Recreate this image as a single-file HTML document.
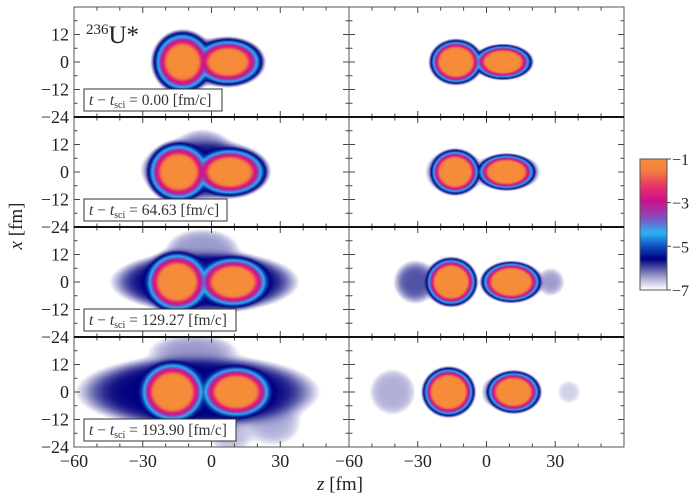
<!DOCTYPE html>
<html><head><meta charset="utf-8"><style>
html,body{margin:0;padding:0;background:#fff;}
#wrap{position:relative;width:700px;height:497px;overflow:hidden;font-family:"Liberation Serif",serif;}
canvas{position:absolute;}
svg{position:absolute;left:0;top:0;}
</style></head><body>
<div id="wrap">
<svg id="ax" width="700" height="497"></svg>
</div>
<script>
// ---- data ----
// components: [z, x, Rz, Rx, log10 amplitude, diffuseness]
const panelLeft1 = [[-12.6,0,6.4,6.6,-0.9,0.55],[7.2,0,7.4,5.0,-0.9,0.55],[-3,0,18,9,-6.2,1.2]];
const panelRight1 = [[-13.3,0,6.8,5.8,-0.9,0.35],[7.2,0,7.4,4.4,-0.9,0.35]];
const panelLeft2 = [[-14.3,0,7.0,6.6,-0.9,0.55],[8.0,0,8.2,5.4,-0.9,0.55],[-3,1,23,11,-5.8,1.4],[-4,10,10,7,-6.3,1.5]];
const panelRight2 = [[-13.7,0,6.4,5.8,-0.9,0.35],[8.7,0,7.5,4.6,-0.9,0.35],[-21,0,5,6,-6.5,1.0],[-3,0,3,8,-6.9,1.0],[19,0,4,5,-6.6,1.0]];
const panelLeft3 = [[-15,0,7.4,7.0,-0.9,0.55],[9.5,0,8.2,5.8,-0.9,0.55],[-3,0,33,11,-5.6,1.8],[-4,14,14,8,-6.4,1.5]];
const panelRight3 = [[-15.4,0,6.8,6.4,-0.9,0.35],[10.8,0,8.0,5.4,-0.9,0.35],[-31,0,7,7,-6.0,1.2],[28,0,5,5,-6.4,1.0]];
const panelLeft4 = [[-17,0,7.8,7.2,-0.9,0.55],[10.8,0,8.2,6.0,-0.9,0.55],[-6,0,42,13,-5.6,2.4],[27,-14,10,8,-6.5,2],[-8,18,16,6,-6.4,2],[8,-20,8,6,-6.6,1.5]];
const panelRight4 = [[-16.5,0,7.0,6.6,-0.9,0.35],[11.8,0,7.0,5.4,-0.9,0.35],[-41,0,9,9,-6.5,1.3],[1,0,3,5,-6.6,1.0],[36,0,5,5,-6.7,1.0]];
const panels = [panelLeft1,panelRight1,panelLeft2,panelRight2,panelLeft3,panelRight3,panelLeft4,panelRight4];
const timeLabels = ["0.00","64.63","129.27","193.90"];
const zTicks = [-60,-30,0,30];
const xTicks = [-24,-12,0,12];
const cbTicks = [-1,-3,-5,-7];

// ---- geometry ----
const X0=74, XM=349, X1=624, Y0=7, RH=110;
const zMin=-60,zMax=60,xMin=-24,xMax=24;
const PW=XM-X0;
function sz(z,col){return (col?XM:X0)+(z-zMin)/(zMax-zMin)*PW;}
function sx(x,row){return Y0+row*RH+(xMax-x)/(xMax-xMin)*RH;}

// colormap
const stops=[[-7,[255,255,255]],[-6.5,[175,175,215]],[-6.0,[80,80,165]],[-5.6,[0,0,128]],[-5.0,[16,80,190]],[-4.4,[40,180,245]],[-3.7,[130,80,190]],[-2.9,[205,15,140]],[-2.2,[232,55,100]],[-1.5,[242,130,65]],[-1,[246,140,58]]];
function cmap(v){
  if(v<=-7) return [255,255,255];
  if(v>=-1) return stops[stops.length-1][1];
  for(let i=1;i<stops.length;i++){ if(v<=stops[i][0]){const a=stops[i-1],b=stops[i];const t=(v-a[0])/(b[0]-a[0]);return [0,1,2].map(k=>a[1][k]+(b[1][k]-a[1][k])*t);} }
}
const wrap=document.getElementById('wrap');
panels.forEach((comps,p)=>{
  const row=Math.floor(p/2),col=p%2;
  const c=document.createElement('canvas');
  
  
  c.width=PW;c.height=RH;c.style.left=(col?XM:X0)+'px';c.style.top=(Y0+row*RH)+'px';
  const ctx=c.getContext('2d');const img=ctx.createImageData(PW,RH);
  for(let j=0;j<RH;j++)for(let i=0;i<PW;i++){
    const z=zMin+(i+0.5)/PW*(zMax-zMin), x=xMax-(j+0.5)/RH*(xMax-xMin);
    let rho=1e-12;
    for(const q of comps){
      const dz=(z-q[0])/q[2],dx=(x-q[1])/q[3];
      const s=(Math.sqrt(dz*dz+dx*dx)-1)*(q[2]+q[3])/2;
      rho+=Math.pow(10,q[4])/(1+Math.exp(Math.min(60,s/q[5])));
    }
    const col3=cmap(Math.log10(rho));const k=(j*PW+i)*4;
    img.data[k]=col3[0];img.data[k+1]=col3[1];img.data[k+2]=col3[2];img.data[k+3]=255;
  }
  ctx.putImageData(img,0,0);
  wrap.insertBefore(c,wrap.firstChild);
});
// colorbar
const CBX=640,CBY=159,CBW=27,CBH=131;
const cb=document.createElement('canvas');


cb.width=CBW;cb.height=CBH;cb.style.left=CBX+'px';cb.style.top=CBY+'px';
{const ctx=cb.getContext('2d');for(let j=0;j<CBH;j++){const v=-1-(j/(CBH-1))*6;const cc=cmap(v);ctx.fillStyle=`rgb(${cc.map(Math.round).join(',')})`;ctx.fillRect(0,j,CBW,1);}}
wrap.insertBefore(cb,wrap.firstChild);

// ---- axes svg ----
const svg=document.getElementById('ax');const NS='http://www.w3.org/2000/svg';
function el(tag,attrs,parent){const e=document.createElementNS(NS,tag);for(const k in attrs)e.setAttribute(k,attrs[k]);(parent||svg).appendChild(e);return e;}
function line(x1,y1,x2,y2,w,c){return el('line',{x1,y1,x2,y2,stroke:c||'#333','stroke-width':w||1});}
for(let row=0;row<4;row++){
  for(let col=0;col<2;col++){
    const L=col?XM:X0,T=Y0+row*RH;
    for(let z=-60;z<=60;z+=10){const px=sz(z,col);const maj=z%30===0;const len=maj?6:3.5;
      const t1=line(px,T,px,T+len,1,'#444');
      const t2=line(px,T+RH,px,T+RH-len,1,'#444');}
    for(let x=-24;x<=24;x+=6){const py=sx(x,row);const maj=x%12===0;const len=maj?6:3.5;
      const t1=line(L,py,L+len,py,1,'#444');
      const t2=line(L+PW,py,L+PW-len,py,1,'#444');}
    const fr=el('rect',{x:L,y:T,width:PW,height:RH,fill:'none',stroke:'#555','stroke-width':1});
    
  }
  if(row>0){const sep=line(X0,Y0+row*RH,X1,Y0+row*RH,2,'#111');}
  xTicks.forEach(v=>{const t=el('text',{x:X0-5,y:sx(v,row)+6,'text-anchor':'end','font-size':18,fill:'#222'});t.textContent=(v<0?'\u2212':'')+Math.abs(v);
    });
  const bx=el('rect',{x:84,y:Y0+row*RH+82,width:row==0?138:(row==1?143:152),height:22,fill:'#fff',stroke:'#333','stroke-width':1});
  
  const tt=el('text',{x:89,y:Y0+row*RH+98,'font-size':15.5,fill:'#333'});
  
  tt.innerHTML='<tspan font-style="italic">t</tspan> \u2212 <tspan font-style="italic">t</tspan><tspan font-size="10" dy="3">sci</tspan><tspan dy="-3"> = '+timeLabels[row]+' [fm/c]</tspan>';
}
for(let col=0;col<2;col++){zTicks.forEach(v=>{const t=el('text',{x:sz(v,col),y:467,'text-anchor':'middle','font-size':18,fill:'#222'});t.textContent=(v<0?'\u2212':'')+Math.abs(v);
  });}
const zl=el('text',{x:340,y:490,'text-anchor':'middle','font-size':19,fill:'#222'});zl.innerHTML='<tspan font-style="italic">z</tspan> [fm]';

const xl=el('text',{x:0,y:0,'text-anchor':'middle','font-size':19,fill:'#222',transform:'translate(22,226) rotate(-90)'});xl.innerHTML='<tspan font-style="italic">x</tspan> [fm]';

const nu=el('text',{x:86,y:43,'font-size':25,fill:'#222'});nu.innerHTML='<tspan font-size="15" dy="-9">236</tspan><tspan dy="9">U*</tspan>';

const cbf=el('rect',{x:CBX,y:CBY,width:CBW,height:CBH,fill:'none',stroke:'#555','stroke-width':1});

cbTicks.forEach(v=>{const py=CBY+(-1-v)/6*CBH;line(CBX+CBW,py,CBX+CBW+4,py,1,'#444');
  const t=el('text',{x:CBX+CBW+5,y:py+6,'font-size':16,fill:'#222'});t.textContent='\u2212'+Math.abs(v);
  });
</script>
</body></html>
